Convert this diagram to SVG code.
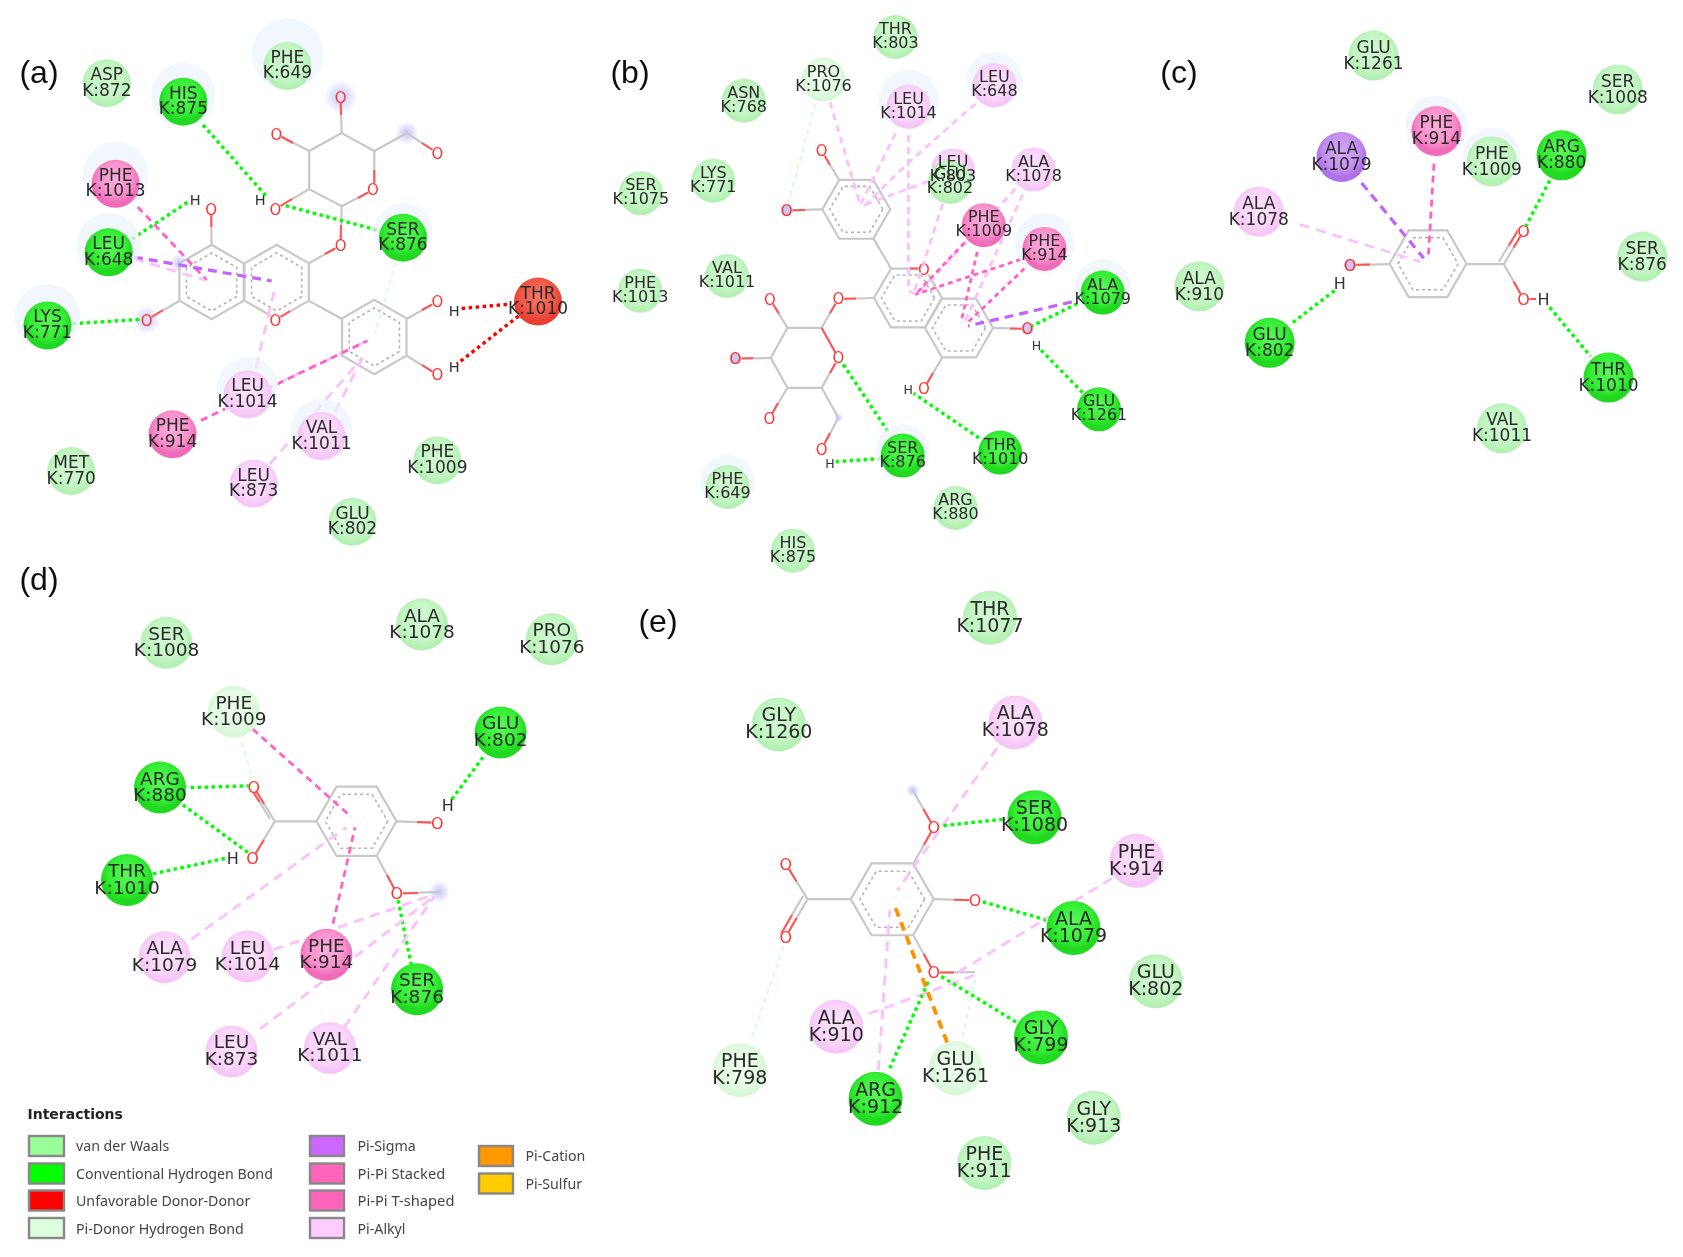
<svg xmlns="http://www.w3.org/2000/svg" width="1683" height="1257" viewBox="0 0 1683 1257">
<style>
text{font-family:"DejaVu Sans","Liberation Sans",sans-serif;fill:#2a2a2a;text-anchor:middle}
.pa text{font-size:17px}.pb text{font-size:16px}.pc text{font-size:17px}.pd-n text{font-size:18.5px}.pe text{font-size:19px}
.v circle.c{fill:url(#gv)}.h circle.c{fill:url(#gh)}.p circle.c{fill:url(#gp)}.k circle.c{fill:url(#gk)}.s circle.c{fill:url(#gs)}.u circle.c{fill:url(#gu)}.d circle.c{fill:url(#gd)}
.halo{fill:#eef3fc;opacity:.75}
.ro{fill:none;stroke:#c8c8c8;stroke-width:2.2;vector-effect:non-scaling-stroke}
.ri{fill:none;stroke:#b4b4b4;stroke-width:1.6;stroke-dasharray:3 3;vector-effect:non-scaling-stroke}
.bond{fill:none;stroke:#c8c8c8;stroke-width:2.2}
.rb{fill:none;stroke:#ff5555;stroke-width:2}
.at{fill:#fff}
.o{font-size:15px;fill:#f33}
.hy{font-size:14.5px;fill:#333}
.bl{fill:url(#gb)}
.hb{stroke:#0f0;stroke-width:3.4;stroke-dasharray:3.5 3.5}
.un{stroke:#f00;stroke-width:3.4;stroke-dasharray:3.5 3.5}
.pd{stroke:#dcfcdc;stroke-width:2.2;stroke-dasharray:5 4}
.ak{stroke:#fdc0fd;stroke-width:2.8;stroke-dasharray:10 7}
.pp{stroke:#ff62c4;stroke-width:2.8;stroke-dasharray:7 5}
.sg{stroke:#c262ff;stroke-width:3.2;stroke-dasharray:9 6}
.ca{stroke:#ff9000;stroke-width:3.8;stroke-dasharray:9 6}
.cb .ak{stroke-dasharray:7 5}.cb .pp{stroke-dasharray:5 4}
.lab{font-family:"Liberation Sans",sans-serif;font-size:32px;fill:#111}
.lt{text-anchor:start;font-family:"Noto Sans","DejaVu Sans",sans-serif;font-size:14.2px;fill:#444}
.lh{text-anchor:start;font-family:"DejaVu Sans",sans-serif;font-weight:bold;font-size:14px;fill:#222}
.sw{stroke:#888;stroke-width:2.4}
</style>
<defs>
<filter id="soft" x="0" y="0" width="100%" height="100%"><feGaussianBlur stdDeviation="0.75"/></filter>
<radialGradient id="gv" cy="45%"><stop offset="0" stop-color="#d2f9d2"/><stop offset=".7" stop-color="#c4f6c4"/><stop offset="1" stop-color="#b4f0b4"/></radialGradient>
<radialGradient id="gh" cy="40%"><stop offset="0" stop-color="#5cf85c"/><stop offset=".7" stop-color="#34ee34"/><stop offset="1" stop-color="#20d820"/></radialGradient>
<radialGradient id="gp" cy="40%"><stop offset="0" stop-color="#fbb0dc"/><stop offset=".7" stop-color="#f890cc"/><stop offset="1" stop-color="#f06cb8"/></radialGradient>
<radialGradient id="gk" cy="45%"><stop offset="0" stop-color="#fce4fc"/><stop offset=".7" stop-color="#fad4fa"/><stop offset="1" stop-color="#f6c6f6"/></radialGradient>
<radialGradient id="gs" cy="40%"><stop offset="0" stop-color="#d4a8f6"/><stop offset=".7" stop-color="#c490f0"/><stop offset="1" stop-color="#b070e8"/></radialGradient>
<radialGradient id="gu" cy="40%"><stop offset="0" stop-color="#f87868"/><stop offset=".7" stop-color="#f05848"/><stop offset="1" stop-color="#e84030"/></radialGradient>
<radialGradient id="gd" cy="45%"><stop offset="0" stop-color="#eefdee"/><stop offset=".7" stop-color="#e4fbe4"/><stop offset="1" stop-color="#d8f8d8"/></radialGradient>
<radialGradient id="gb"><stop offset="0" stop-color="#c4c4f8"/><stop offset="1" stop-color="#c4c4f8" stop-opacity="0"/></radialGradient>
<g id="hex"><polygon class="ro" points="1,0 .5,.866 -.5,.866 -1,0 -.5,-.866 .5,-.866"/><polygon class="ri" points=".78,0 .39,.675 -.39,.675 -.78,0 -.39,-.675 .39,-.675"/></g>
</defs>
<g filter="url(#soft)">
<rect width="1683" height="1257" fill="#fff"/>

<g id="labels">
<text class="lab" x="39" y="83">(a)</text>
<text class="lab" x="630" y="83">(b)</text>
<text class="lab" x="1179" y="83">(c)</text>
<text class="lab" x="39" y="590">(d)</text>
<text class="lab" x="658" y="632">(e)</text>
</g>

<g id="ligand-a">
<circle class="bl" cx="340.6" cy="97" r="17"/><circle class="bl" cx="406.8" cy="133" r="12"/><circle class="bl" cx="146.6" cy="320" r="14"/><circle class="bl" cx="179" cy="263" r="9"/>
<use href="#hex" transform="translate(211.6 282) rotate(30) scale(37.2)"/>
<use href="#hex" transform="translate(276.7 282) rotate(30) scale(37.2)"/>
<use href="#hex" transform="translate(374.3 337) rotate(30) scale(37.2)"/>
<polygon class="ro" points="341.7,133.1 374.3,151 374.3,189.2 341.7,206.3 309.2,189.2 309.2,151"/>
<path class="bond" d="M340.6 97L341.7 133M276.3 134L309.2 151M374.3 151L406.8 133L437.4 153M275.5 209L309.2 189M341.7 206L340.6 245.5L309.2 263M211.2 209L211.6 245M146.6 320L179.1 301M309.2 301L341.7 318.7M406.8 318.7L437.4 301.6M406.8 355.8L437.4 374.7"/>
<path class="rb" d="M340.6 97L341 115M276.3 134L293 143M422 143L437.4 153M275.5 209L292 199M341 225L340.6 245.5L325 254M211.2 209L211.4 227M146.6 320L163 310M422 310L437.4 301.6M422 365L437.4 374.7M374.3 170L374.3 189.2L358 198M290 311L275.5 320"/>
<g><circle class="at" cx="340.6" cy="97" r="6" style="fill:#dcdcf8"/><text class="o" x="340.6" y="102.5">O</text><circle class="at" cx="276.3" cy="134" r="6"/><text class="o" x="276.3" y="139.5">O</text><circle class="at" cx="437.4" cy="153" r="6"/><text class="o" x="437.4" y="158.5">O</text><circle class="at" cx="275.5" cy="209" r="6"/><text class="o" x="275.5" y="214.5">O</text><circle class="at" cx="340.6" cy="245.5" r="6"/><text class="o" x="340.6" y="251">O</text><circle class="at" cx="211.2" cy="209" r="6"/><text class="o" x="211.2" y="214.5">O</text><circle class="at" cx="146.6" cy="320" r="6" style="fill:#dcdcf8"/><text class="o" x="146.6" y="325.5">O</text><circle class="at" cx="437.4" cy="301.6" r="6"/><text class="o" x="437.4" y="307">O</text><circle class="at" cx="437.4" cy="374.7" r="6"/><text class="o" x="437.4" y="380">O</text><circle class="at" cx="373" cy="189" r="6"/><text class="o" x="373" y="194.5">O</text><circle class="at" cx="275.5" cy="320" r="6"/><text class="o" x="275.5" y="325.5">O</text></g>
<text class="hy" x="195.2" y="204.5">H</text><text class="hy" x="260.2" y="204.5">H</text><text class="hy" x="454.3" y="316">H</text><text class="hy" x="454.3" y="372">H</text>
</g>

<g id="ligand-b">
<use href="#hex" transform="translate(856.3 209.3) scale(34)"/>
<use href="#hex" transform="translate(908 298) scale(34)"/>
<use href="#hex" transform="translate(959 328) scale(34)"/>
<polygon class="ro" points="787.5,327.8 821.6,327.8 838.4,358 821.6,387.8 787.5,387.8 770.7,358"/>
<path class="bond" d="M873.6 238.9L891 268.5M874.4 298L838.4 299L821.6 327.8M770 299.3L787.5 327.8M735.5 358.5L770.7 358M769.3 418.5L787.5 387.8M821.6 387.8L838.4 417.8L821.6 449.3M821.6 150.7L839 179.6M786.7 210.4L822.7 209.3M1027.5 329L993 327.8M923.8 388.9L942 358"/>
<path class="rb" d="M856 298.5L838.4 299L830 313M770 299.3L779 313.5M735.5 358.5L753 358.3M769.3 418.5L778 403M830 433L821.6 449.3M821.6 150.7L830 165M786.7 210.4L805 210M1027.5 329L1010 328.4M923.8 388.9L933 373M908 268.5L924.5 268.5M821.6 327.8L838.4 358L830 373"/>
<g><circle class="at" cx="838.4" cy="299" r="6"/><text class="o" x="838.4" y="304">O</text><circle class="at" cx="770" cy="299.3" r="6"/><text class="o" x="770" y="304.5">O</text><circle class="at" cx="735.5" cy="358.5" r="6" style="fill:#c8c8f0"/><text class="o" x="735.5" y="363.5">O</text><circle class="at" cx="769.3" cy="418.5" r="6"/><text class="o" x="769.3" y="423.5">O</text><circle class="at" cx="821.6" cy="449.3" r="6"/><text class="o" x="821.6" y="454.5">O</text><circle class="at" cx="821.6" cy="150.7" r="6"/><text class="o" x="821.6" y="156">O</text><circle class="at" cx="786.7" cy="210.4" r="6" style="fill:#c8c8f0"/><text class="o" x="786.7" y="215.5">O</text><circle class="at" cx="1027.5" cy="329" r="6" style="fill:#c8c8f0"/><text class="o" x="1027.5" y="334">O</text><circle class="at" cx="923.8" cy="388.9" r="6"/><text class="o" x="923.8" y="394">O</text><circle class="at" cx="924" cy="270" r="6"/><text class="o" x="924" y="275">O</text><circle class="at" cx="838.4" cy="358" r="6"/><text class="o" x="838.4" y="363">O</text></g>
<circle class="bl" cx="838.4" cy="417.8" r="5"/>
<text class="hy" x="1036.5" y="349.5" style="font-size:12.5px">H</text><text class="hy" x="908.2" y="394" style="font-size:12.5px">H</text><text class="hy" x="830" y="468" style="font-size:12.5px">H</text>
</g>

<g id="ligand-c" transform="translate(0 -3.5)">
<use href="#hex" transform="translate(1428 267.3) scale(38.5)"/>
<path class="bond" d="M1466.3 267.6L1503.7 267.6L1523.5 234.8M1499 265L1519 232M1503.7 267.6L1523.5 302.4M1350 268.6L1389.8 267.6"/>
<path class="rb" d="M1513.6 251L1523.5 234.8M1509 249L1519 232M1513.6 285L1523.5 302.4M1350 268.6L1370 268M1523.5 302.4L1536 302.4"/>
<g><circle class="at" cx="1523.5" cy="234.8" r="6"/><text class="o" x="1523.5" y="240.3" style="font-size:16px">O</text><circle class="at" cx="1523.5" cy="302.4" r="6"/><text class="o" x="1523.5" y="308" style="font-size:16px">O</text><circle class="at" cx="1350" cy="268.6" r="6" style="fill:#c8c8f0"/><text class="o" x="1350" y="274" style="font-size:16px">O</text></g>
<text class="hy" x="1339.8" y="292" style="font-size:16px">H</text><text class="hy" x="1543.5" y="308" style="font-size:16px">H</text>
</g>

<g id="ligand-d">
<circle class="bl" cx="439" cy="892" r="11"/>
<use href="#hex" transform="translate(356.5 821.3) scale(40)"/>
<path class="bond" d="M316.9 821.4L274.8 821.4L253.7 786.9M270 819L249 785M274.8 821.4L252.6 858.3M396 821.4L437.4 822.8M377 856.6L396.9 893.4L439 892"/>
<path class="rb" d="M264 804L253.7 786.9M259.5 802L249 785M264 840L252.6 858.3M417 822L437.4 822.8M387 875L396.9 893.4L418 893"/>
<g><circle class="at" cx="253.7" cy="786.9" r="6"/><text class="o" x="253.7" y="792.5" style="font-size:16px">O</text><circle class="at" cx="252.6" cy="858.3" r="6"/><text class="o" x="252.6" y="864" style="font-size:16px">O</text><circle class="at" cx="437.4" cy="822.8" r="6"/><text class="o" x="437.4" y="828.5" style="font-size:16px">O</text><circle class="at" cx="396.9" cy="893.4" r="6"/><text class="o" x="396.9" y="899" style="font-size:16px">O</text></g>
<text class="hy" x="447.8" y="811" style="font-size:16px">H</text><text class="hy" x="232.7" y="864" style="font-size:16px">H</text>
</g>

<g id="ligand-e">
<circle class="bl" cx="912.8" cy="790.4" r="7"/>
<use href="#hex" transform="translate(892.3 899.3) scale(41.5)"/>
<path class="bond" d="M850.8 899.1L807.5 899.1L785.7 863.9M807.5 899.1L785.7 937M803 896L781 934M913.9 862.7L933.8 827.2L912.8 790.4M933.8 899.1L975.1 900.3M913.9 935.9L933.8 972.6L975.1 972.2"/>
<path class="rb" d="M796.6 881.5L785.7 863.9M796.6 918L785.7 937M792 915L781 934M923.8 845L933.8 827.2L923.3 809M954 899.7L975.1 900.3M923.8 954L933.8 972.6L954 972.4"/>
<g><circle class="at" cx="785.7" cy="863.9" r="6"/><text class="o" x="785.7" y="869.5" style="font-size:16px">O</text><circle class="at" cx="785.7" cy="937" r="6"/><text class="o" x="785.7" y="942.5" style="font-size:16px">O</text><circle class="at" cx="933.8" cy="827.2" r="6"/><text class="o" x="933.8" y="833" style="font-size:16px">O</text><circle class="at" cx="975.1" cy="900.3" r="6"/><text class="o" x="975.1" y="906" style="font-size:16px">O</text><circle class="at" cx="933.8" cy="972.6" r="6"/><text class="o" x="933.8" y="978" style="font-size:16px">O</text></g>
</g>

<g id="connectors" fill="none">
<g class="ca-a">
<line class="hb" x1="203" y1="125" x2="268" y2="198"/>
<line class="hb" x1="377" y1="230" x2="283" y2="205"/>
<line class="hb" x1="132" y1="239" x2="190" y2="200.6"/>
<line class="hb" x1="72.7" y1="323.7" x2="140" y2="319.4"/>
<line class="un" x1="507" y1="304.4" x2="459" y2="308.7"/>
<line class="un" x1="518.6" y1="316" x2="457" y2="364"/>
<line class="pp" x1="137.8" y1="207" x2="206.7" y2="280"/>
<line class="ak" x1="134" y1="258.7" x2="204.7" y2="280"/>
<line class="sg" x1="134" y1="257" x2="271.7" y2="281"/>
<line class="ak" x1="256" y1="367.6" x2="275.5" y2="285.5"/>
<line class="ak" x1="277.5" y1="383.7" x2="367.4" y2="340.8"/>
<line class="pp" x1="201" y1="420.4" x2="367.4" y2="340.8"/>
<line class="ak" x1="334.9" y1="412.2" x2="365.5" y2="351.5"/>
<line class="ak" x1="269.8" y1="464" x2="361.6" y2="358.7"/>
<line class="pd" x1="396" y1="262.3" x2="375" y2="333.7"/>
</g>
<g class="cb">
<line class="hb" x1="1077.3" y1="303.7" x2="1031.8" y2="326"/>
<line class="hb" x1="1082.7" y1="392.6" x2="1039" y2="348"/>
<line class="hb" x1="979" y1="438" x2="913.6" y2="393.3"/>
<line class="hb" x1="888" y1="431.5" x2="841" y2="361"/>
<line class="hb" x1="881" y1="458.5" x2="834.4" y2="461.9"/>
<line class="pd" x1="815.5" y1="103.7" x2="788" y2="203.7"/>
<line class="ak" x1="830" y1="102" x2="860" y2="204"/>
<line class="ak" x1="895.5" y1="133.3" x2="861" y2="203.7"/>
<path class="ak" d="M908.5 135L908.5 290.7L915 294"/>
<path class="ak" d="M975.5 103.7L908 163L862.7 207.4"/>
<line class="ak" x1="928" y1="181.5" x2="862.7" y2="205.6"/>
<line class="ak" x1="942.7" y1="203.7" x2="913.6" y2="294.4"/>
<line class="ak" x1="1015.4" y1="188.9" x2="917" y2="294.4"/>
<line class="ak" x1="1022.7" y1="194.4" x2="964.5" y2="322.2"/>
<line class="pp" x1="964.5" y1="242.6" x2="915.5" y2="294.4"/>
<line class="pp" x1="977.3" y1="251.9" x2="961" y2="322.2"/>
<line class="pp" x1="1021" y1="259.3" x2="915.5" y2="294.4"/>
<line class="pp" x1="1024.5" y1="268.5" x2="968" y2="322.2"/>
<line class="sg" x1="1071.8" y1="301.9" x2="968" y2="326"/>
</g>
<g class="cc" transform="translate(0 -3.5)">
<line class="ak" x1="1299.7" y1="228" x2="1420.4" y2="265.2"/>
<line class="sg" x1="1361.6" y1="186.5" x2="1423.8" y2="261.8"/>
<line class="pp" x1="1434" y1="167.2" x2="1428.2" y2="261.8"/>
<line class="hb" x1="1549.7" y1="184" x2="1525.9" y2="229.7"/>
<line class="hb" x1="1549.7" y1="310.8" x2="1590.5" y2="359.8"/>
<line class="hb" x1="1292.9" y1="326" x2="1337" y2="292.2"/>
</g>
<g class="cd">
<line class="hb" x1="483" y1="757.2" x2="451.6" y2="799.7"/>
<line class="hb" x1="190.6" y1="787.6" x2="248.8" y2="785.9"/>
<line class="hb" x1="182.9" y1="804.8" x2="248.8" y2="853.1"/>
<line class="hb" x1="153" y1="873.8" x2="225.8" y2="858.3"/>
<line class="hb" x1="411.4" y1="965.2" x2="398" y2="899.7"/>
<line class="pd" x1="241.9" y1="742.8" x2="252.6" y2="779"/>
<line class="pp" x1="252.6" y1="729" x2="351.3" y2="816.9"/>
<line class="pp" x1="333" y1="923.8" x2="355.1" y2="827.2"/>
<line class="ak" x1="191.4" y1="939.3" x2="346.3" y2="827.2"/>
<line class="ak" x1="273.6" y1="949.7" x2="434.4" y2="894.5"/>
<line class="ak" x1="260.2" y1="1029" x2="434.4" y2="896.2"/>
<line class="ak" x1="344.4" y1="1027.2" x2="434.4" y2="896.2"/>
</g>
<g class="ce">
<line class="ak" x1="997" y1="748.1" x2="897.5" y2="890.4"/>
<line class="hb" x1="1002.7" y1="819.2" x2="939.6" y2="826"/>
<line class="hb" x1="1046.7" y1="920" x2="981.7" y2="901.5"/>
<line class="ak" x1="1111.8" y1="878.5" x2="953" y2="975.4"/>
<line class="ak" x1="868.8" y1="1013.7" x2="974" y2="975.4"/>
<line class="ak" x1="878.3" y1="1070.2" x2="889.8" y2="910.2"/>
<line class="hb" x1="889.8" y1="1068.3" x2="929.2" y2="979.3"/>
<line class="hb" x1="1016" y1="1022" x2="939.6" y2="975.4"/>
<line class="ca" x1="947.2" y1="1042.6" x2="894.8" y2="906.2"/>
<line class="pd" x1="962.5" y1="1036.6" x2="975.9" y2="975.4"/>
<line class="pd" x1="752" y1="1036.6" x2="784.6" y2="943.8"/>
</g>
</g>

<g id="nodes-a" class="pa">
<g id="a-asp872" class="v"><circle class="c" cx="106.8" cy="83.2" r="24"/><text x="106.8" y="80">ASP<tspan x="106.8" dy="15.5">K:872</tspan></text></g>
<g id="a-his875" class="h"><circle class="halo" cx="183.3" cy="95" r="32"/><circle class="c" cx="183.3" cy="101.7" r="24"/><text x="183.3" y="98.5">HIS<tspan x="183.3" dy="15.5">K:875</tspan></text></g>
<g id="a-phe649" class="v"><circle class="halo" cx="287.4" cy="54" r="36"/><circle class="c" cx="287.4" cy="66" r="24"/><text x="287.4" y="62.5">PHE<tspan x="287.4" dy="15.5">K:649</tspan></text></g>
<g id="a-phe1013" class="p"><circle class="halo" cx="115.6" cy="175" r="33"/><circle class="c" cx="115.6" cy="183.8" r="24"/><text x="115.6" y="180.5">PHE<tspan x="115.6" dy="15.5">K:1013</tspan></text></g>
<g id="a-leu648" class="h"><circle class="halo" cx="108.7" cy="245" r="32"/><circle class="c" cx="108.7" cy="252.3" r="24"/><text x="108.7" y="249">LEU<tspan x="108.7" dy="15.5">K:648</tspan></text></g>
<g id="a-lys771" class="h"><circle class="halo" cx="47.5" cy="317" r="33"/><circle class="c" cx="47.5" cy="325.5" r="24"/><text x="47.5" y="322">LYS<tspan x="47.5" dy="15.5">K:771</tspan></text></g>
<g id="a-ser876" class="h"><circle class="halo" cx="403" cy="232" r="29"/><circle class="c" cx="403" cy="237.7" r="24"/><text x="403" y="234.5">SER<tspan x="403" dy="15.5">K:876</tspan></text></g>
<g id="a-thr1010" class="u"><circle class="c" cx="538" cy="301.6" r="24"/><text x="538" y="298.5">THR<tspan x="538" dy="15.5">K:1010</tspan></text></g>
<g id="a-leu1014" class="k"><circle class="halo" cx="247.6" cy="388" r="31"/><circle class="c" cx="247.6" cy="394.4" r="24"/><text x="247.6" y="391">LEU<tspan x="247.6" dy="15.5">K:1014</tspan></text></g>
<g id="a-phe914" class="p"><circle class="c" cx="172.6" cy="434.3" r="24"/><text x="172.6" y="431">PHE<tspan x="172.6" dy="15.5">K:914</tspan></text></g>
<g id="a-val1011" class="k"><circle class="halo" cx="321.5" cy="430" r="31"/><circle class="c" cx="321.5" cy="436.1" r="24"/><text x="321.5" y="433">VAL<tspan x="321.5" dy="15.5">K:1011</tspan></text></g>
<g id="a-leu873" class="k"><circle class="c" cx="253.7" cy="483.6" r="24"/><text x="253.7" y="480.5">LEU<tspan x="253.7" dy="15.5">K:873</tspan></text></g>
<g id="a-phe1009" class="v"><circle class="c" cx="437.4" cy="460.4" r="24"/><text x="437.4" y="457">PHE<tspan x="437.4" dy="15.5">K:1009</tspan></text></g>
<g id="a-met770" class="v"><circle class="c" cx="71.2" cy="471.1" r="24"/><text x="71.2" y="468">MET<tspan x="71.2" dy="15.5">K:770</tspan></text></g>
<g id="a-glu802" class="v"><circle class="c" cx="352.5" cy="521.8" r="24"/><text x="352.5" y="518.5">GLU<tspan x="352.5" dy="15.5">K:802</tspan></text></g>
</g>

<g id="nodes-b" class="pb">
<g id="b-thr803" class="v"><circle class="c" cx="895.5" cy="37" r="22"/><text x="895.5" y="34">THR<tspan x="895.5" dy="14">K:803</tspan></text></g>
<g id="b-pro1076" class="d"><circle class="c" cx="823.5" cy="79.6" r="22"/><text x="823.5" y="76.5">PRO<tspan x="823.5" dy="14">K:1076</tspan></text></g>
<g id="b-asn768" class="v"><circle class="c" cx="743.8" cy="100.7" r="22"/><text x="743.8" y="97.5">ASN<tspan x="743.8" dy="14">K:768</tspan></text></g>
<g id="b-leu1014" class="k"><circle class="halo" cx="908.5" cy="100" r="30"/><circle class="c" cx="908.5" cy="106.7" r="22"/><text x="908.5" y="103.5">LEU<tspan x="908.5" dy="14">K:1014</tspan></text></g>
<g id="b-leu648" class="k"><circle class="halo" cx="994.4" cy="80" r="28"/><circle class="c" cx="994.4" cy="85.2" r="22"/><text x="994.4" y="82">LEU<tspan x="994.4" dy="14">K:648</tspan></text></g>
<g id="b-lys771" class="v"><circle class="c" cx="713.3" cy="180.7" r="22"/><text x="713.3" y="177.5">LYS<tspan x="713.3" dy="14">K:771</tspan></text></g>
<g id="b-ser1075" class="v"><circle class="c" cx="640.9" cy="193.3" r="22"/><text x="640.9" y="190">SER<tspan x="640.9" dy="14">K:1075</tspan></text></g>
<g id="b-leu803" class="k"><circle class="c" cx="953" cy="170.4" r="22"/></g>
<g id="b-glu802" class="v"><circle class="c" cx="950" cy="182" r="22"/><text x="950" y="179">GLU<tspan x="950" dy="14">K:802</tspan></text></g>
<g id="b-leu803-label"><text x="953" y="167">LEU<tspan x="953" dy="14">K:803</tspan></text></g>
<g id="b-ala1078" class="k"><circle class="c" cx="1033.6" cy="169.6" r="22"/><text x="1033.6" y="166.5">ALA<tspan x="1033.6" dy="14">K:1078</tspan></text></g>
<g id="b-phe1009" class="p"><circle class="c" cx="983.8" cy="225.2" r="22"/><text x="983.8" y="222">PHE<tspan x="983.8" dy="14">K:1009</tspan></text></g>
<g id="b-phe914" class="p"><circle class="halo" cx="1044.5" cy="243" r="30"/><circle class="c" cx="1044.5" cy="248.9" r="22"/><text x="1044.5" y="245.5">PHE<tspan x="1044.5" dy="14">K:914</tspan></text></g>
<g id="b-ala1079" class="h"><circle class="halo" cx="1102.7" cy="287" r="28"/><circle class="c" cx="1102.7" cy="292.6" r="22"/><text x="1102.7" y="289.5">ALA<tspan x="1102.7" dy="14">K:1079</tspan></text></g>
<g id="b-val1011" class="v"><circle class="c" cx="727" cy="276" r="22"/><text x="727" y="273">VAL<tspan x="727" dy="14">K:1011</tspan></text></g>
<g id="b-phe1013" class="v"><circle class="c" cx="640.2" cy="290.7" r="22"/><text x="640.2" y="287.5">PHE<tspan x="640.2" dy="14">K:1013</tspan></text></g>
<g id="b-glu1261" class="h"><circle class="c" cx="1099" cy="409.3" r="22"/><text x="1099" y="406">GLU<tspan x="1099" dy="14">K:1261</tspan></text></g>
<g id="b-thr1010" class="h"><circle class="c" cx="1000.2" cy="452.6" r="22"/><text x="1000.2" y="449.5">THR<tspan x="1000.2" dy="14">K:1010</tspan></text></g>
<g id="b-ser876" class="h"><circle class="halo" cx="902.7" cy="451" r="27"/><circle class="c" cx="902.7" cy="455.6" r="22"/><text x="902.7" y="452.5">SER<tspan x="902.7" dy="14">K:876</tspan></text></g>
<g id="b-arg880" class="v"><circle class="c" cx="955.5" cy="508" r="22"/><text x="955.5" y="505">ARG<tspan x="955.5" dy="14">K:880</tspan></text></g>
<g id="b-phe649" class="v"><circle class="halo" cx="727.5" cy="482" r="27"/><circle class="c" cx="727.5" cy="487" r="22"/><text x="727.5" y="484">PHE<tspan x="727.5" dy="14">K:649</tspan></text></g>
<g id="b-his875" class="v"><circle class="c" cx="793" cy="550.7" r="22"/><text x="793" y="547.5">HIS<tspan x="793" dy="14">K:875</tspan></text></g>
</g>

<g id="nodes-c" class="pc" transform="translate(0 -3.5)">
<g id="c-glu1261" class="v"><circle class="c" cx="1373.5" cy="59.1" r="25"/><text x="1373.5" y="56">GLU<tspan x="1373.5" dy="16">K:1261</tspan></text></g>
<g id="c-ser1008" class="v"><circle class="c" cx="1617.7" cy="92.9" r="25"/><text x="1617.7" y="90">SER<tspan x="1617.7" dy="16">K:1008</tspan></text></g>
<g id="c-phe914" class="p"><circle class="halo" cx="1436.4" cy="130" r="31"/><circle class="c" cx="1436.4" cy="134.5" r="25"/><text x="1436.4" y="131.5">PHE<tspan x="1436.4" dy="16">K:914</tspan></text></g>
<g id="c-ala1079" class="s"><circle class="c" cx="1341.5" cy="160.5" r="25"/><text x="1341.5" y="157.5">ALA<tspan x="1341.5" dy="16">K:1079</tspan></text></g>
<g id="c-phe1009" class="v"><circle class="halo" cx="1491.8" cy="160" r="29"/><circle class="c" cx="1491.8" cy="164.9" r="25"/><text x="1491.8" y="162">PHE<tspan x="1491.8" dy="16">K:1009</tspan></text></g>
<g id="c-arg880" class="h"><circle class="c" cx="1561.6" cy="158.8" r="25"/><text x="1561.6" y="155.5">ARG<tspan x="1561.6" dy="16">K:880</tspan></text></g>
<g id="c-ala1078" class="k"><circle class="c" cx="1258.8" cy="215.2" r="25"/><text x="1258.8" y="212">ALA<tspan x="1258.8" dy="16">K:1078</tspan></text></g>
<g id="c-ser876" class="v"><circle class="c" cx="1642.2" cy="260.1" r="25"/><text x="1642.2" y="257">SER<tspan x="1642.2" dy="16">K:876</tspan></text></g>
<g id="c-ala910" class="v"><circle class="c" cx="1199.3" cy="289.9" r="25"/><text x="1199.3" y="287">ALA<tspan x="1199.3" dy="16">K:910</tspan></text></g>
<g id="c-glu802" class="h"><circle class="c" cx="1269.7" cy="346.3" r="25"/><text x="1269.7" y="343">GLU<tspan x="1269.7" dy="16">K:802</tspan></text></g>
<g id="c-thr1010" class="h"><circle class="c" cx="1608.5" cy="381.1" r="25"/><text x="1608.5" y="378">THR<tspan x="1608.5" dy="16">K:1010</tspan></text></g>
<g id="c-val1011" class="v"><circle class="c" cx="1502" cy="431.8" r="25"/><text x="1502" y="428.5">VAL<tspan x="1502" dy="16">K:1011</tspan></text></g>
</g>

<g id="nodes-d" class="pd-n">
<g id="d-ser1008" class="v"><circle class="c" cx="166.5" cy="642.8" r="26"/><text x="166.5" y="639.5">SER<tspan x="166.5" dy="16.5">K:1008</tspan></text></g>
<g id="d-ala1078" class="v"><circle class="c" cx="422" cy="624.5" r="26"/><text x="422" y="621.5">ALA<tspan x="422" dy="16.5">K:1078</tspan></text></g>
<g id="d-pro1076" class="v"><circle class="c" cx="551.9" cy="639.3" r="26"/><text x="551.9" y="636">PRO<tspan x="551.9" dy="16.5">K:1076</tspan></text></g>
<g id="d-phe1009" class="d"><circle class="c" cx="233.8" cy="711.7" r="26"/><text x="233.8" y="708.5">PHE<tspan x="233.8" dy="16.5">K:1009</tspan></text></g>
<g id="d-glu802" class="h"><circle class="c" cx="500.6" cy="732.4" r="26"/><text x="500.6" y="729">GLU<tspan x="500.6" dy="16.5">K:802</tspan></text></g>
<g id="d-arg880" class="h"><circle class="c" cx="160" cy="787.6" r="26"/><text x="160" y="784.5">ARG<tspan x="160" dy="16.5">K:880</tspan></text></g>
<g id="d-thr1010" class="h"><circle class="c" cx="127" cy="880" r="26"/><text x="127" y="877">THR<tspan x="127" dy="16.5">K:1010</tspan></text></g>
<g id="d-ala1079" class="k"><circle class="c" cx="164.6" cy="957.2" r="26"/><text x="164.6" y="954">ALA<tspan x="164.6" dy="16.5">K:1079</tspan></text></g>
<g id="d-leu1014" class="k"><circle class="c" cx="247.6" cy="956.6" r="26"/><text x="247.6" y="953.5">LEU<tspan x="247.6" dy="16.5">K:1014</tspan></text></g>
<g id="d-phe914" class="p"><circle class="c" cx="326.4" cy="954.8" r="26"/><text x="326.4" y="951.5">PHE<tspan x="326.4" dy="16.5">K:914</tspan></text></g>
<g id="d-ser876" class="h"><circle class="c" cx="417.1" cy="989.3" r="26"/><text x="417.1" y="986">SER<tspan x="417.1" dy="16.5">K:876</tspan></text></g>
<g id="d-leu873" class="k"><circle class="c" cx="231.5" cy="1051.4" r="26"/><text x="231.5" y="1048">LEU<tspan x="231.5" dy="16.5">K:873</tspan></text></g>
<g id="d-val1011" class="k"><circle class="c" cx="329.9" cy="1047.9" r="26"/><text x="329.9" y="1044.5">VAL<tspan x="329.9" dy="16.5">K:1011</tspan></text></g>
</g>

<g id="nodes-e" class="pe">
<g id="e-thr1077" class="v"><circle class="c" cx="990" cy="617.7" r="27"/><text x="990" y="614.5">THR<tspan x="990" dy="17">K:1077</tspan></text></g>
<g id="e-gly1260" class="v"><circle class="c" cx="778.8" cy="724.4" r="27"/><text x="778.8" y="721">GLY<tspan x="778.8" dy="17">K:1260</tspan></text></g>
<g id="e-ala1078" class="k"><circle class="c" cx="1015.3" cy="722.4" r="27"/><text x="1015.3" y="719">ALA<tspan x="1015.3" dy="17">K:1078</tspan></text></g>
<g id="e-ser1080" class="h"><circle class="c" cx="1034.5" cy="817.3" r="27"/><text x="1034.5" y="814">SER<tspan x="1034.5" dy="17">K:1080</tspan></text></g>
<g id="e-phe914" class="k"><circle class="c" cx="1136.6" cy="860.8" r="27"/><text x="1136.6" y="857.5">PHE<tspan x="1136.6" dy="17">K:914</tspan></text></g>
<g id="e-ala1079" class="h"><circle class="c" cx="1073.5" cy="928" r="27"/><text x="1073.5" y="925">ALA<tspan x="1073.5" dy="17">K:1079</tspan></text></g>
<g id="e-glu802" class="v"><circle class="c" cx="1155.8" cy="981.3" r="27"/><text x="1155.8" y="978">GLU<tspan x="1155.8" dy="17">K:802</tspan></text></g>
<g id="e-gly799" class="h"><circle class="c" cx="1041" cy="1037.4" r="27"/><text x="1041" y="1034">GLY<tspan x="1041" dy="17">K:799</tspan></text></g>
<g id="e-ala910" class="k"><circle class="c" cx="836.2" cy="1026.8" r="27"/><text x="836.2" y="1023.5">ALA<tspan x="836.2" dy="17">K:910</tspan></text></g>
<g id="e-phe798" class="d"><circle class="c" cx="739.8" cy="1070.2" r="27"/><text x="739.8" y="1067">PHE<tspan x="739.8" dy="17">K:798</tspan></text></g>
<g id="e-glu1261" class="d"><circle class="c" cx="955.6" cy="1068.3" r="27"/><text x="955.6" y="1065">GLU<tspan x="955.6" dy="17">K:1261</tspan></text></g>
<g id="e-arg912" class="h"><circle class="c" cx="875.6" cy="1098.7" r="27"/><text x="875.6" y="1095.5">ARG<tspan x="875.6" dy="17">K:912</tspan></text></g>
<g id="e-gly913" class="v"><circle class="c" cx="1093.8" cy="1117.7" r="27"/><text x="1093.8" y="1114.5">GLY<tspan x="1093.8" dy="17">K:913</tspan></text></g>
<g id="e-phe911" class="v"><circle class="c" cx="984.3" cy="1163.1" r="27"/><text x="984.3" y="1160">PHE<tspan x="984.3" dy="17">K:911</tspan></text></g>
</g>

<g id="legend">
<text class="lh" x="27.5" y="1119">Interactions</text>
<rect class="sw" x="29" y="1136" width="35" height="20" fill="#9f9"/><text class="lt" x="76" y="1151">van der Waals</text>
<rect class="sw" x="29" y="1163.5" width="35" height="20" fill="#0f0"/><text class="lt" x="76" y="1178.5">Conventional Hydrogen Bond</text>
<rect class="sw" x="29" y="1190.5" width="35" height="20" fill="#f00"/><text class="lt" x="76" y="1206">Unfavorable Donor-Donor</text>
<rect class="sw" x="29" y="1218" width="35" height="20" fill="#dfd"/><text class="lt" x="76" y="1234">Pi-Donor Hydrogen Bond</text>
<rect class="sw" x="310" y="1136" width="34" height="20" fill="#c6f"/><text class="lt" x="357.5" y="1151">Pi-Sigma</text>
<rect class="sw" x="310" y="1163.5" width="34" height="20" fill="#f6b"/><text class="lt" x="357.5" y="1178.5" style="font-size:14.7px">Pi-Pi Stacked</text>
<rect class="sw" x="310" y="1190.5" width="34" height="20" fill="#f6b"/><text class="lt" x="357.5" y="1206" style="font-size:14.7px">Pi-Pi T-shaped</text>
<rect class="sw" x="310" y="1218" width="34" height="20" fill="#fcf"/><text class="lt" x="357.5" y="1234">Pi-Alkyl</text>
<rect class="sw" x="479" y="1146" width="34" height="20" fill="#f90"/><text class="lt" x="525.5" y="1161">Pi-Cation</text>
<rect class="sw" x="479" y="1173.5" width="34" height="20" fill="#fc0"/><text class="lt" x="525.5" y="1188.5">Pi-Sulfur</text>
</g>
</g>
</svg>
